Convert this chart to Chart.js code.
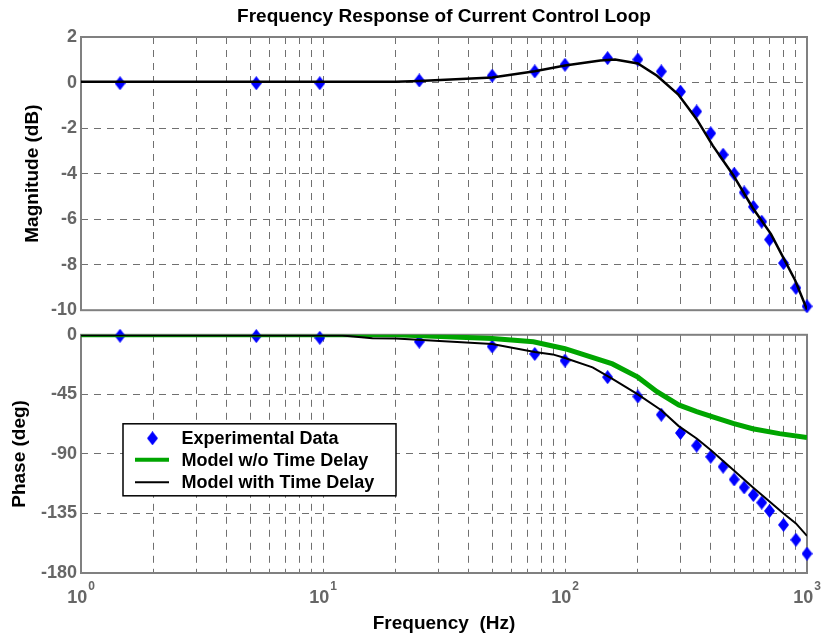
<!DOCTYPE html>
<html>
<head>
<meta charset="utf-8">
<title>Frequency Response of Current Control Loop</title>
<script src="https://cdn.jsdelivr.net/npm/chart.js@4.4.1/dist/chart.umd.min.js"></script>
<style>
    body { margin: 0; background: #fff; }
    #magChart { position: absolute; left: 0; top: 0; }
    #phaseChart { position: absolute; left: 0; top: 320px; }
</style>
</head>
<body>
<canvas id="magChart" width="822" height="325"></canvas>
<canvas id="phaseChart" width="822" height="321"></canvas>
<script>
const FONT = "'Liberation Sans', Arial, Helvetica, sans-serif";
const TICK_COLOR = '#666666';
const GRID_COLOR = '#707070';

// Experimental data (Hz, dB, deg)
const expFreq = [1.45, 5.3, 9.7, 25, 50, 75, 100, 150, 200, 250, 300, 350, 400, 450, 500, 550, 600, 650, 700, 800, 900, 1000];
const expMag = [-0.03, -0.03, -0.03, 0.09, 0.30, 0.49, 0.78, 1.07, 1.01, 0.49, -0.40, -1.27, -2.23, -3.17, -4.01, -4.83, -5.46, -6.11, -6.90, -7.93, -9.02, -9.83];
const expPhase = [-0.75, -1, -2.25, -5.2, -8.8, -14.5, -19.5, -32, -46.6, -60.4, -74.2, -83.7, -92.2, -99.7, -109.3, -115.3, -121.1, -126.8, -133.1, -143.6, -154.9, -165.4];

// Model with time delay
const delayMagFreq = [1, 20, 25, 50, 75, 100, 140, 161, 200, 240, 294, 350, 408, 495, 596, 710, 796, 892, 1000];
const delayMag = [0.03, 0.03, 0.07, 0.22, 0.5, 0.75, 0.97, 1.01, 0.84, 0.3, -0.53, -1.61, -2.77, -4.06, -5.5, -6.66, -7.67, -8.67, -9.97];
const delayPhaseFreq = [1, 12, 16, 20, 50, 75, 89, 100, 130, 157, 200, 250, 295, 350, 400, 495, 600, 700, 800, 900, 1000];
const delayPhase = [-0.3, -0.5, -2.6, -2.8, -7, -13, -14.8, -17.5, -24.6, -33.3, -45, -57, -69, -78.4, -87, -102, -115.5, -126, -135, -142.5, -152];

// Model without time delay
const noDelayFreq = [1, 20, 50, 74, 100, 157, 200, 240, 295, 350, 408, 495, 596, 770, 1000];
const noDelayPhase = [0, 0, -2.8, -5.3, -10.5, -22, -32, -43, -53, -58, -62, -67, -71, -74.7, -77.7];

// Axes
const decades = [1, 10, 100, 1000];
const decadeExp = ['0', '1', '2', '3'];
const magRange = [-10, 2];
const magStep = 2;
const phaseRange = [-180, 0];
const phaseStep = 45;

const xGridTicks = [];
decades.slice(0, -1).forEach(d => {
    for (let k = 1; k < 10; k++) xGridTicks.push(d * k);
});
xGridTicks.push(decades[decades.length - 1]);

const toPoints = (xs, ys) => xs.map((x, i) => ({ x: x, y: ys[i] }));

function makeDiamond(w, h, color) {
    const c = document.createElement('canvas');
    c.width = w;
    c.height = h;
    const g = c.getContext('2d');
    g.fillStyle = color;
    g.beginPath();
    g.moveTo(w / 2, 0);
    g.lineTo(w, h / 2);
    g.lineTo(w / 2, h);
    g.lineTo(0, h / 2);
    g.closePath();
    g.fill();
    return c;
}
const diamond = makeDiamond(11, 14, '#0000ff');

Chart.defaults.font.family = FONT;
Chart.defaults.font.weight = 'bold';

// gray box round the plot area, like MATLAB axes
const plotBox = {
    id: 'plotBox',
    beforeDatasetsDraw(chart) {
        const { ctx, chartArea: a } = chart;
        ctx.save();
        ctx.strokeStyle = '#808080';
        ctx.lineWidth = 2;
        ctx.strokeRect(a.left, a.top, a.right - a.left, a.bottom - a.top);
        ctx.restore();
    }
};

// 10^n labels under the phase plot
const decadeLabels = {
    id: 'decadeLabels',
    afterDraw(chart) {
        const { ctx, chartArea: a } = chart;
        const xs = chart.scales.x;
        ctx.save();
        ctx.fillStyle = TICK_COLOR;
        ctx.textAlign = 'left';
        ctx.textBaseline = 'alphabetic';
        decades.forEach((d, i) => {
            ctx.font = 'bold 18px ' + FONT;
            const bw = ctx.measureText('10').width;
            ctx.font = 'bold 12px ' + FONT;
            const ew = ctx.measureText(decadeExp[i]).width;
            const x0 = xs.getPixelForValue(d) - (bw + ew + 1) / 2;
            ctx.font = 'bold 18px ' + FONT;
            ctx.fillText('10', x0, a.bottom + 30);
            ctx.font = 'bold 12px ' + FONT;
            ctx.fillText(decadeExp[i], x0 + bw + 1, a.bottom + 17);
        });
        ctx.restore();
    }
};

// legend box inside the phase plot
const boxLegend = {
    id: 'boxLegend',
    afterDraw(chart) {
        const { ctx, chartArea: a } = chart;
        const left = a.left + 42;
        const top = a.top + 89;
        ctx.save();
        ctx.fillStyle = '#fff';
        ctx.fillRect(left, top, 273, 72);
        ctx.strokeStyle = '#000';
        ctx.lineWidth = 1.5;
        ctx.strokeRect(left, top, 273, 72);
        const rows = [14.5, 36, 58.5];
        chart.data.datasets.forEach((ds, i) => {
            const y = top + rows[i];
            if (ds.showLine === false) {
                ctx.drawImage(diamond, left + 29.5 - diamond.width / 2, y - diamond.height / 2);
            } else {
                ctx.strokeStyle = ds.borderColor;
                ctx.lineWidth = ds.borderWidth === 5 ? 4 : 2;
                ctx.beginPath();
                ctx.moveTo(left + 12, y);
                ctx.lineTo(left + 46, y);
                ctx.stroke();
            }
            ctx.fillStyle = '#000';
            ctx.font = 'bold 18px ' + FONT;
            ctx.textBaseline = 'middle';
            ctx.fillText(ds.label, left + 58.5, y + 1);
        });
        ctx.restore();
    }
};

function xScale(extra) {
    return Object.assign({
        type: 'logarithmic',
        min: decades[0],
        max: decades[decades.length - 1],
        afterBuildTicks: s => { s.ticks = xGridTicks.map(v => ({ value: v })); },
        ticks: { display: false, autoSkip: false },
        grid: { color: GRID_COLOR, lineWidth: 1, drawTicks: false },
        border: { display: false, dash: [7, 6] }
    }, extra);
}

function yScale(range, step, title, titlePad) {
    return {
        type: 'linear',
        min: range[0],
        max: range[1],
        afterFit: s => { s.width = 81; },
        ticks: { stepSize: step, color: TICK_COLOR, font: { size: 18, weight: 'bold' }, padding: 4 },
        grid: { color: GRID_COLOR, lineWidth: 1, drawTicks: false },
        border: { display: false, dash: [7, 6] },
        title: { display: true, text: title, color: '#000', font: { size: 19, weight: 'bold' }, padding: { top: titlePad, bottom: 0 } }
    };
}

const expStyle = {
    label: 'Experimental Data',
    showLine: false,
    pointStyle: diamond,
    pointRadius: 5,
    pointHoverRadius: 5,
    borderColor: '#0000ff',
    backgroundColor: '#0000ff',
    clip: false,
    order: 2
};

// Magnitude Chart
new Chart(document.getElementById('magChart').getContext('2d'), {
    type: 'line',
    data: {
        datasets: [
            Object.assign({ data: toPoints(expFreq, expMag) }, expStyle),
            {
                label: 'Model with Time Delay',
                data: toPoints(delayMagFreq, delayMag),
                borderColor: '#000',
                borderWidth: 2.5,
                pointRadius: 0,
                fill: false,
                order: 0
            }
        ]
    },
    options: {
        responsive: false,
        animation: false,
        events: [],
        layout: { padding: { left: 0, right: 15, top: 0, bottom: 11 } },
        scales: {
            x: xScale({ afterFit: s => { s.height = 0; } }),
            y: yScale(magRange, magStep, 'Magnitude (dB)', 20.9)
        },
        plugins: {
            legend: { display: false },
            tooltip: { enabled: false },
            title: {
                display: true,
                text: 'Frequency Response of Current Control Loop',
                color: '#000',
                font: { size: 19, weight: 'bold' },
                padding: { top: 5, bottom: 9.2 },
                fullSize: false
            }
        }
    },
    plugins: [plotBox]
});

// Phase Chart
new Chart(document.getElementById('phaseChart').getContext('2d'), {
    type: 'line',
    data: {
        datasets: [
            Object.assign({ data: toPoints(expFreq, expPhase) }, expStyle),
            {
                label: 'Model w/o Time Delay',
                data: toPoints(noDelayFreq, noDelayPhase),
                borderColor: 'rgb(0, 165, 0)',
                borderWidth: 5,
                pointRadius: 0,
                fill: false,
                order: 1
            },
            {
                label: 'Model with Time Delay',
                data: toPoints(delayPhaseFreq, delayPhase),
                borderColor: '#000',
                borderWidth: 2,
                pointRadius: 0,
                fill: false,
                order: 0
            }
        ]
    },
    options: {
        responsive: false,
        animation: false,
        events: [],
        layout: { padding: { left: 0, right: 15, top: 14, bottom: 0 } },
        scales: {
            x: xScale({
                afterFit: s => { s.height = 68; },
                title: { display: true, text: 'Frequency  (Hz)', color: '#000', font: { size: 19, weight: 'bold' }, padding: { top: 0, bottom: 5.6 } }
            }),
            y: yScale(phaseRange, phaseStep, 'Phase (deg)', 8.6)
        },
        plugins: {
            legend: { display: false },
            tooltip: { enabled: false }
        }
    },
    plugins: [plotBox, decadeLabels, boxLegend]
});
</script>
</body>
</html>
